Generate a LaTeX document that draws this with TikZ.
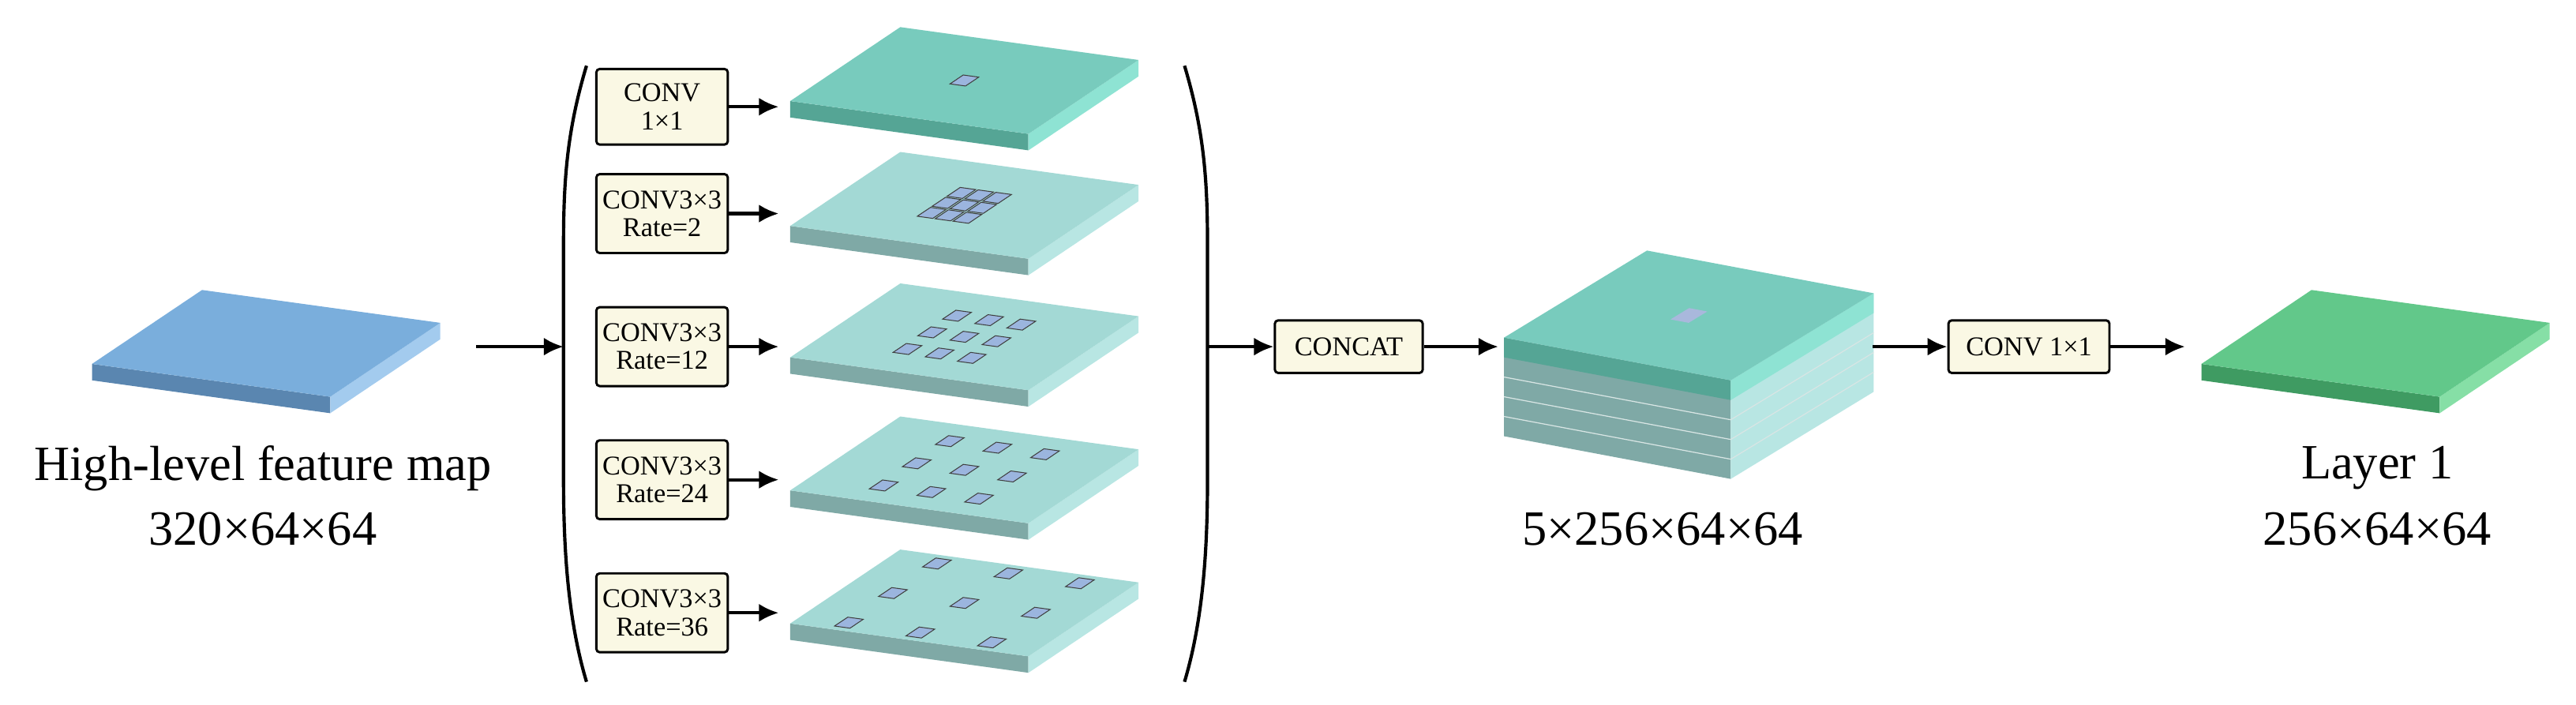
\documentclass[tikz,border=0pt]{standalone}
\usepackage{fontspec}
\setmainfont{Liberation Serif}
\usetikzlibrary{arrows.meta}
\definecolor{inTop}{HTML}{7AAEDC}\definecolor{inFr}{HTML}{5A86B0}\definecolor{inRt}{HTML}{A3CBEE}
\definecolor{aTop}{HTML}{78CBBD}\definecolor{aFr}{HTML}{55A595}\definecolor{aRt}{HTML}{8EE3D3}
\definecolor{bTop}{HTML}{A3D9D5}\definecolor{bFr}{HTML}{7FA9A6}\definecolor{bRt}{HTML}{B8E6E3}
\definecolor{oTop}{HTML}{62C88A}\definecolor{oFr}{HTML}{3F9B62}\definecolor{oRt}{HTML}{86DFA6}
\definecolor{kern}{HTML}{9BB5DE}\definecolor{boxc}{HTML}{FAF8E4}\definecolor{kern2}{HTML}{A9B8DC}
\newcommand\myslab[4]{% top front right thickness
  \fill[#2] (-1,-1) -- (1,-1) -- ([yshift=-#4pt]1,-1) -- ([yshift=-#4pt]-1,-1) -- cycle;
  \fill[#3] (1,-1) -- (1,1) -- ([yshift=-#4pt]1,1) -- ([yshift=-#4pt]1,-1) -- cycle;
  \fill[#1] (-1,-1) -- (1,-1) -- (1,1) -- (-1,1) -- cycle;}
\newcommand\mykern[2]{% center u v
  \filldraw[fill=kern,draw=black!75,line width=0.5pt] (#1-0.065,#2-0.12) -- (#1+0.065,#2-0.12) -- (#1+0.065,#2+0.12) -- (#1-0.065,#2+0.12) -- cycle;}
\newcommand\mygrid[2]{\foreach \i in {-1,0,1}{\foreach \j in {-1,0,1}{\mykern{\i*#1}{\j*#2}}}}
\tikzset{
  box/.style={draw,line width=1.4pt,rounded corners=2pt,fill=boxc,font=\fontsize{16.5}{17}\selectfont,inner sep=1pt,align=center},
  arr/.style={line width=2pt,-{Latex[length=12pt,width=11pt]}},
  lbl/.style={font=\fontsize{30}{32}\selectfont},
  slabsc/.style={x={(72.5pt,-10pt)},y={(33.5pt,22.5pt)}}
}
\begin{document}
\begin{tikzpicture}[x=1pt,y=-1pt]
\useasboundingbox (0,0) rectangle (1568,429);
% input slab
\begin{scope}[shift={(162,209)},slabsc]\myslab{inTop}{inFr}{inRt}{10}\end{scope}
\node[lbl] (t1) at (160,285) {High-level feature map};
\node[lbl] (t2) at (160,322) {320×64×64};
\coordinate (inR) at (290,211);
\coordinate (pl) at (343,211);
\draw[arr] (inR) -- (pl);
% parentheses
\draw[line width=2pt] (357,40) .. controls (345,80) and (343,110) .. (343,150) -- (343,290) .. controls (343,330) and (345,375) .. (357,415);
\draw[line width=2pt] (721,40) .. controls (733,80) and (735,110) .. (735,150) -- (735,290) .. controls (735,330) and (733,375) .. (721,415);
% rows
\node[box,minimum width=80pt,minimum height=46pt] (b1) at (403,65) {CONV\\1×1};
\node[box,minimum width=80pt,minimum height=48pt] (b2) at (403,130) {CONV3×3\\Rate=2};
\node[box,minimum width=80pt,minimum height=48pt] (b3) at (403,211) {CONV3×3\\Rate=12};
\node[box,minimum width=80pt,minimum height=48pt] (b4) at (403,292) {CONV3×3\\Rate=24};
\node[box,minimum width=80pt,minimum height=48pt] (b5) at (403,373) {CONV3×3\\Rate=36};
\foreach \n/\y in {1/65,2/130,3/211,4/292,5/373}{
  \coordinate (s\n) at (474,\y);
  \draw[arr] (b\n.east) -- (s\n);}
\begin{scope}[shift={(587,49)},slabsc]\myslab{aTop}{aFr}{aRt}{10}\mykern{0}{0}\end{scope}
\begin{scope}[shift={(587,125)},slabsc]\myslab{bTop}{bFr}{bRt}{10}\mygrid{0.15}{0.27}\end{scope}
\begin{scope}[shift={(587,205)},slabsc]\myslab{bTop}{bFr}{bRt}{10}\mygrid{0.27}{0.45}\end{scope}
\begin{scope}[shift={(587,286)},slabsc]\myslab{bTop}{bFr}{bRt}{10}\mygrid{0.4}{0.6}\end{scope}
\begin{scope}[shift={(587,367)},slabsc]\myslab{bTop}{bFr}{bRt}{10}\mygrid{0.6}{0.8}\end{scope}
% concat
\coordinate (pr) at (735,211);
\node[box,minimum width=90pt,minimum height=32pt] (cc) at (821,211) {CONCAT};
\draw[arr] (pr) -- (cc.west);
\coordinate (stL) at (912,211);
\draw[arr] (cc.east) -- (stL);
% stack
\begin{scope}[shift={(1028,192)},x={(69pt,-13pt)},y={(43.5pt,26.5pt)}]
  \fill[bFr] (-1,-1) -- (1,-1) -- ([yshift=-60pt]1,-1) -- ([yshift=-60pt]-1,-1) -- cycle;
  \fill[bRt] (1,-1) -- (1,1) -- ([yshift=-60pt]1,1) -- ([yshift=-60pt]1,-1) -- cycle;
  \foreach \k in {24,36,48}{
    \draw[white!70!bFr,line width=0.6pt] ([yshift=-\k pt]-1,-1) -- ([yshift=-\k pt]1,-1) -- ([yshift=-\k pt]1,1);}
  \fill[aFr] (-1,-1) -- (1,-1) -- ([yshift=-12pt]1,-1) -- ([yshift=-12pt]-1,-1) -- cycle;
  \fill[aRt] (1,-1) -- (1,1) -- ([yshift=-12pt]1,1) -- ([yshift=-12pt]1,-1) -- cycle;
  \fill[aTop] (-1,-1) -- (1,-1) -- (1,1) -- (-1,1) -- cycle;
  \fill[kern2] (-0.08,-0.13) -- (0.08,-0.13) -- (0.08,0.13) -- (-0.08,0.13) -- cycle;
\end{scope}
\node[lbl] (t3) at (1012,322) {5×256×64×64};
\coordinate (stR) at (1140,211);
\node[box,minimum width=98pt,minimum height=32pt] (c2) at (1235,211) {CONV 1×1};
\draw[arr] (stR) -- (c2.west);
\coordinate (oL) at (1330,211);
\draw[arr] (c2.east) -- (oL);
% output
\begin{scope}[shift={(1446,209)},slabsc]\myslab{oTop}{oFr}{oRt}{10}\end{scope}
\node[lbl] (t4) at (1447,285) {Layer 1};
\node[lbl] (t5) at (1447,322) {256×64×64};
\end{tikzpicture}
\end{document}
